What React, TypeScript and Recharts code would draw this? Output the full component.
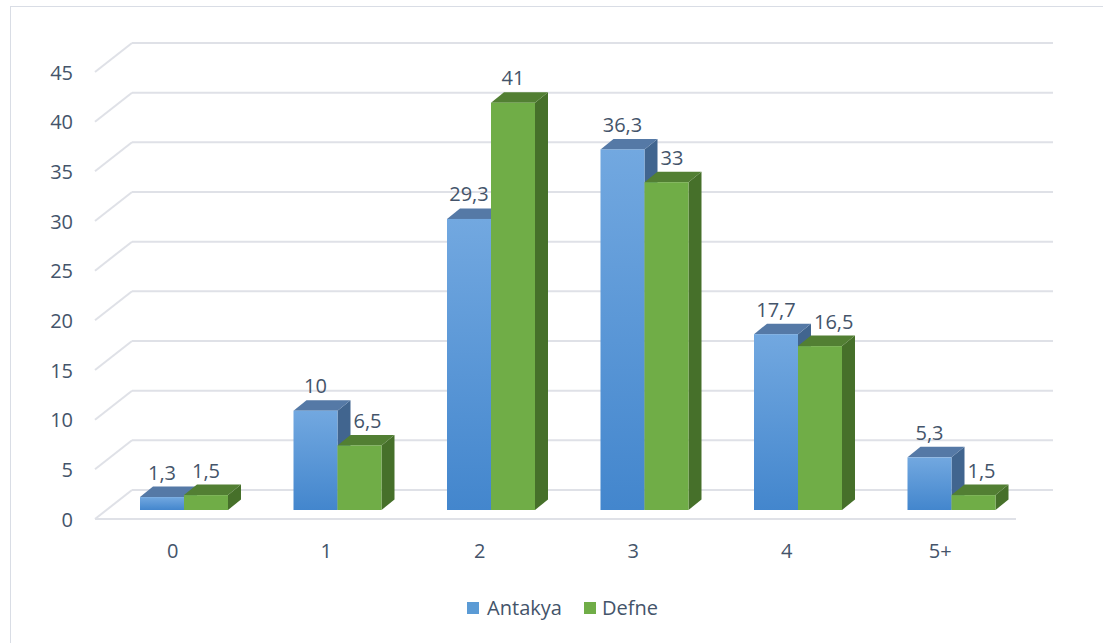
import React from "react";
import {
  BarChart,
  Bar,
  XAxis,
  YAxis,
  CartesianGrid,
  LabelList,
  Legend,
} from "recharts";

const categories = ["0", "1", "2", "3", "4", "5+"];
const antakya = [1.3, 10, 29.3, 36.3, 17.7, 5.3];
const defne = [1.5, 6.5, 41, 33, 16.5, 1.5];
const yTicks = [0, 5, 10, 15, 20, 25, 30, 35, 40, 45];
const Y_MAX = 45;

const data = categories.map((c, i) => ({
  name: c,
  Antakya: antakya[i],
  Defne: defne[i],
}));

const TEXT = "#44546a";
const GRID = "#dfe1e7";
const FONT = "'Open Sans', sans-serif";
const FS = 20;

// depth of the 3d box
const DX = 13;
const DY = -10.5;

const palettes: Record<string, { front: string; top: string; side: string }> = {
  Antakya: { front: "url(#blueFront)", top: "#5579a6", side: "#41658f" },
  Defne: { front: "#70ad47", top: "#527f33", side: "#46702a" },
};

const Box = (props: any) => {
  const { x, y, width, height, series } = props;
  const p = palettes[series];
  return (
    <g>
      <polygon
        points={`${x + width},${y} ${x + width + DX},${y + DY} ${x + width + DX},${y + height + DY} ${x + width},${y + height}`}
        fill={p.side}
      />
      <polygon
        points={`${x},${y} ${x + DX},${y + DY} ${x + width + DX},${y + DY} ${x + width},${y}`}
        fill={p.top}
      />
      <rect x={x} y={y} width={width} height={height} fill={p.front} />
    </g>
  );
};

const fmt = (v: number) => String(v).replace(".", ",");

// green labels get pushed right when the blue box beside them is taller
const makeLabel = (series: string) => (props: any) => {
  const { x, y, width, value, index } = props;
  const txt = fmt(value);
  let tx = x + width / 2;
  let anchor: "middle" | "start" = "middle";
  if (series === "Defne" && antakya[index] > defne[index]) {
    const half = (txt.length * FS * 0.55) / 2;
    if (tx - half < x + DX + 3) {
      tx = x + DX + 3;
      anchor = "start";
    }
  }
  return (
    <text
      x={tx}
      y={y - 25}
      textAnchor={anchor}
      dominantBaseline="central"
      fill={TEXT}
      fontSize={FS}
      fontFamily={FONT}
    >
      {txt}
    </text>
  );
};

// y labels sit on the front edge, with the side wall going back
const YTick = (props: any) => {
  const { y, payload } = props;
  return (
    <g>
      <line x1={95} y1={y + 9} x2={132} y2={y - 20} stroke={GRID} strokeWidth={2} />
      {payload.value === 0 && (
        <line x1={95} y1={y + 9} x2={1016} y2={y + 9} stroke={GRID} strokeWidth={2} />
      )}
      <text
        x={73}
        y={y + 9}
        textAnchor="end"
        dominantBaseline="central"
        fill={TEXT}
        fontSize={FS}
        fontFamily={FONT}
      >
        {payload.value}
      </text>
    </g>
  );
};

const XTick = (props: any) => {
  const { x, payload } = props;
  return (
    <text
      x={x - 11}
      y={550}
      textAnchor="middle"
      dominantBaseline="central"
      fill={TEXT}
      fontSize={FS}
      fontFamily={FONT}
    >
      {payload.value}
    </text>
  );
};

// back wall lines, pushed up behind the bars
const backWall = ({ yAxis, offset }: any) =>
  yTicks.map((t) =>
    yAxis && typeof yAxis.scale === "function"
      ? yAxis.scale(t) - 20
      : offset.top + offset.height * (1 - t / Y_MAX) - 20
  );

const LegendContent = () => (
  <div
    style={{
      display: "flex",
      justifyContent: "center",
      alignItems: "center",
      fontFamily: FONT,
      fontSize: FS,
      color: TEXT,
      paddingLeft: 22,
    }}
  >
    <span style={{ width: 12, height: 12, background: "#5b9bd5", marginRight: 8 }} />
    <span style={{ marginRight: 22 }}>Antakya</span>
    <span style={{ width: 12, height: 12, background: "#70ad47", marginRight: 6 }} />
    <span>Defne</span>
  </div>
);

export default function App() {
  return (
    <div
      style={{
        position: "absolute",
        left: 0,
        top: 0,
        width: 1103,
        height: 643,
        background: "#fff",
        overflow: "hidden",
      }}
    >
      <div
        style={{
          position: "absolute",
          left: 10,
          top: 6,
          width: 1200,
          height: 700,
          border: "1.5px solid #d9dde5",
        }}
      />
      <BarChart
        width={1103}
        height={643}
        data={data}
        margin={{ top: 63, right: 75, bottom: 103, left: 10 }}
        barGap={0}
        barSize={44}
      >
        <defs>
          <linearGradient id="blueFront" x1="0" y1="0" x2="0" y2="1">
            <stop offset="0%" stopColor="#72a8e0" />
            <stop offset="100%" stopColor="#4386cd" />
          </linearGradient>
        </defs>
        <CartesianGrid
          vertical={false}
          stroke={GRID}
          strokeWidth={2}
          x={132}
          width={921}
          horizontalCoordinatesGenerator={backWall}
        />
        <XAxis
          dataKey="name"
          axisLine={false}
          tickLine={false}
          tick={<XTick />}
          height={30}
        />
        <YAxis
          domain={[0, Y_MAX]}
          ticks={yTicks}
          axisLine={false}
          tickLine={false}
          width={97}
          tick={<YTick />}
        />
        <Legend
          verticalAlign="middle"
          layout="horizontal"
          align="center"
          wrapperStyle={{ top: 594, left: 0, width: 1103 }}
          content={LegendContent}
        />
        <Bar
          dataKey="Antakya"
          isAnimationActive={false}
          shape={(p: any) => <Box {...p} series="Antakya" />}
        >
          <LabelList dataKey="Antakya" content={makeLabel("Antakya")} />
        </Bar>
        <Bar
          dataKey="Defne"
          isAnimationActive={false}
          shape={(p: any) => <Box {...p} series="Defne" />}
        >
          <LabelList dataKey="Defne" content={makeLabel("Defne")} />
        </Bar>
      </BarChart>
    </div>
  );
}
